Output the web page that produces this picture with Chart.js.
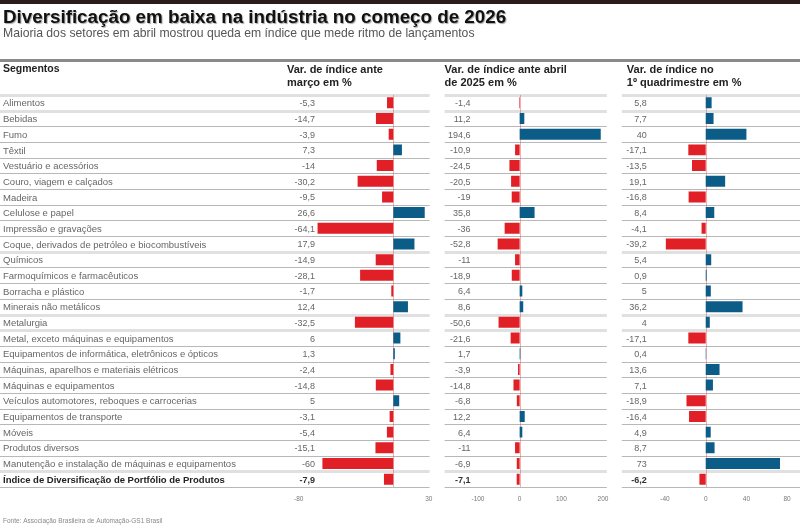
<!DOCTYPE html>
<html>
<head>
<meta charset="utf-8">
<script src="https://cdn.jsdelivr.net/npm/chart.js@4.4.1/dist/chart.umd.min.js"></script>
<style>
  html, body { margin: 0; padding: 0; background: #fff; }
  #wrap { width: 800px; height: 526px; }
</style>
</head>
<body>
<div id="wrap"><canvas id="chart"></canvas></div>
<script>
const segments = [
  'Alimentos', 'Bebidas', 'Fumo', 'Têxtil', 'Vestuário e acessórios',
  'Couro, viagem e calçados', 'Madeira', 'Celulose e papel', 'Impressão e gravações',
  'Coque, derivados de petróleo e biocombustíveis', 'Químicos',
  'Farmoquímicos e farmacêuticos', 'Borracha e plástico', 'Minerais não metálicos',
  'Metalurgia', 'Metal, exceto máquinas e equipamentos',
  'Equipamentos de informática, eletrônicos e ópticos',
  'Máquinas, aparelhos e materiais elétricos', 'Máquinas e equipamentos',
  'Veículos automotores, reboques e carrocerias', 'Equipamentos de transporte',
  'Móveis', 'Produtos diversos', 'Manutenção e instalação de máquinas e equipamentos',
  'Índice de Diversificação de Portfólio de Produtos'
];
const varMarco = [-5.3, -14.7, -3.9, 7.3, -14, -30.2, -9.5, 26.6, -64.1, 17.9, -14.9, -28.1, -1.7,
  12.4, -32.5, 6, 1.3, -2.4, -14.8, 5, -3.1, -5.4, -15.1, -60, -7.9];
const varAbril2025 = [-1.4, 11.2, 194.6, -10.9, -24.5, -20.5, -19, 35.8, -36, -52.8, -11, -18.9, 6.4,
  8.6, -50.6, -21.6, 1.7, -3.9, -14.8, -6.8, 12.2, 6.4, -11, -6.9, -7.1];
const varQuadrimestre = [5.8, 7.7, 40, -17.1, -13.5, 19.1, -16.8, 8.4, -4.1, -39.2, 5.4, 0.9, 5,
  36.2, 4, -17.1, 0.4, 13.6, 7.1, -18.9, -16.4, 4.9, 8.7, 73, -6.2];

const ticksMarco = [-80, 30];
const ticksAbril = [-100, 0, 100, 200];
const ticksQuad = [-40, 0, 40, 80];

const headers = [
  ['Var. de índice ante', 'março em %'],
  ['Var. de índice ante abril', 'de 2025 em %'],
  ['Var. de índice no', '1º quadrimestre em %']
];

// row boundaries drawn as wide pale bands instead of thin rules
const paleRules = [0, 1, 10, 14, 15, 24];

const RED = '#e01f26';
const BLUE = '#0c5c88';
const FONT = '"Liberation Sans", Arial, sans-serif';
const LAST = segments.length - 1;

const fmt = v => String(v).replace('.', ',');

function barSet(values, axisId) {
  return {
    data: values,
    xAxisID: axisId,
    backgroundColor: values.map(v => v < 0 ? RED : BLUE),
    barPercentage: 0.7,
    categoryPercentage: 1,
    grouped: false
  };
}

function xAxis(min, max, weight, tickList) {
  return {
    type: 'linear',
    position: 'bottom',
    stack: 'cols',
    stackWeight: weight,
    min: min,
    max: max,
    afterBuildTicks: s => { s.ticks = tickList.map(v => ({ value: v })); },
    afterFit: s => { s.height = 20; },
    grid: { display: false, drawTicks: false },
    border: { display: false },
    ticks: {
      autoSkip: false,
      maxRotation: 0,
      padding: 8,
      color: '#777',
      font: { family: FONT, size: 6.5 },
      callback: v => String(v)
    }
  };
}

const tablePlugin = {
  id: 'table',
  beforeDraw(chart) {
    const c = chart.ctx;
    c.save();
    c.fillStyle = '#fff';
    c.fillRect(0, 0, chart.width, chart.height);
    // top rule
    c.fillStyle = '#2b1c1c';
    c.fillRect(0, 0, chart.width, 4);
    // title
    c.shadowColor = 'rgba(0,0,0,0.35)';
    c.shadowOffsetX = 1;
    c.shadowOffsetY = 1;
    c.shadowBlur = 1;
    c.fillStyle = '#111';
    c.font = 'bold 18.8px ' + FONT;
    c.textBaseline = 'alphabetic';
    c.fillText('Diversificação em baixa na indústria no começo de 2026', 3, 23);
    c.shadowColor = 'transparent';
    c.fillStyle = '#555';
    c.font = '12.2px ' + FONT;
    c.fillText('Maioria dos setores em abril mostrou queda em índice que mede ritmo de lançamentos', 3, 37);
    // header rule
    c.fillStyle = '#8a8a8a';
    c.fillRect(0, 59, chart.width, 3);
    // column headers
    const sc = chart.scales;
    c.fillStyle = '#222';
    c.font = 'bold 10.5px ' + FONT;
    c.fillText('Segmentos', 3, 72);
    c.font = 'bold 11px ' + FONT;
    const hx = [sc.xMarco.left + 2, sc.xAbril.left + 7, sc.xQuad.left + 12];
    headers.forEach((h, i) => {
      c.fillText(h[0], hx[i], 73);
      c.fillText(h[1], hx[i], 86);
    });
    // source
    c.fillStyle = '#888';
    c.font = '6.5px ' + FONT;
    c.fillText('Fonte: Associação Brasileira de Automação-GS1 Brasil', 3, 523);
    c.restore();
  },
  beforeDatasetsDraw(chart) {
    const c = chart.ctx;
    const { y, xMarco, xAbril, xQuad } = chart.scales;
    const spans = [
      [0, xMarco.right - 8],
      [xAbril.left + 7, xAbril.right - 8],
      [xQuad.left + 7, chart.width]
    ];
    const n = segments.length;
    const step = (y.bottom - y.top) / n;
    c.save();
    for (let k = 0; k <= n; k++) {
      const pale = paleRules.includes(k);
      const yy = Math.round(y.top + k * step) + 0.5;
      c.strokeStyle = pale ? '#e0e0e0' : '#b8b8b8';
      c.lineWidth = pale ? 3 : 1;
      spans.forEach(([a, b]) => {
        c.beginPath();
        c.moveTo(a, yy);
        c.lineTo(b, yy);
        c.stroke();
      });
    }
    // zero lines
    c.strokeStyle = 'rgba(220,80,80,0.45)';
    c.lineWidth = 1;
    [xMarco, xAbril, xQuad].forEach(s => {
      const x0 = Math.round(s.getPixelForValue(0)) + 0.5;
      c.beginPath();
      c.moveTo(x0, y.top);
      c.lineTo(x0, y.bottom);
      c.stroke();
    });
    c.restore();
  },
  afterDatasetsDraw(chart) {
    const c = chart.ctx;
    const { y, xMarco, xAbril, xQuad } = chart.scales;
    const cols = [
      [varMarco, xMarco.left + 30],
      [varAbril2025, xAbril.left + 33],
      [varQuadrimestre, xQuad.left + 32]
    ];
    c.save();
    c.textAlign = 'right';
    c.textBaseline = 'middle';
    cols.forEach(([vals, xr]) => {
      vals.forEach((v, i) => {
        c.font = (i === LAST ? 'bold ' : '') + '9px ' + FONT;
        c.fillStyle = i === LAST ? '#333' : '#666';
        c.fillText(fmt(v), xr, y.getPixelForValue(i) + 1);
      });
    });
    c.restore();
  }
};

const ctx = document.getElementById('chart').getContext('2d');

const config = {
  type: 'bar',
  data: {
    labels: segments,
    datasets: [
      barSet(varMarco, 'xMarco'),
      barSet(varAbril2025, 'xAbril'),
      barSet(varQuadrimestre, 'xQuad')
    ]
  },
  options: {
    indexAxis: 'y',
    responsive: true,
    maintainAspectRatio: false,
    animation: false,
    layout: { padding: { left: 3, right: 0, top: 95, bottom: 19 } },
    plugins: {
      legend: { display: false },
      title: { display: false },
      tooltip: { enabled: false }
    },
    scales: {
      y: {
        type: 'category',
        position: 'left',
        afterFit: s => { s.width = 282; },
        grid: { display: false, drawTicks: false },
        border: { display: false },
        ticks: {
          autoSkip: false,
          crossAlign: 'far',
          padding: 0,
          labelOffset: 1,
          color: ctx => ctx.index === LAST ? '#222' : '#666',
          font: ctx => ({ family: FONT, size: 9.5, weight: ctx.index === LAST ? 'bold' : 'normal' })
        }
      },
      xMarco: xAxis(-91.67, 37.5, 155, ticksMarco),
      xAbril: xAxis(-196.85, 228.35, 180, ticksAbril),
      xQuad: xAxis(-89.35, 84.84, 180, ticksQuad)
    }
  },
  plugins: [tablePlugin]
};

const myChart = new Chart(ctx, config);
</script>
</body>
</html>
